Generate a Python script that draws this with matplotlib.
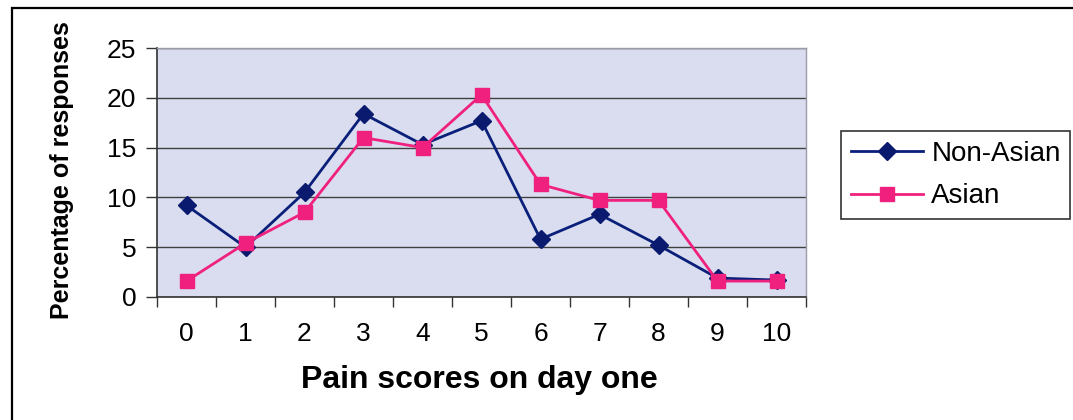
import matplotlib
matplotlib.use("Agg")
import matplotlib.pyplot as plt
from matplotlib.patches import Rectangle
from matplotlib.ticker import FixedLocator

plt.rcParams['font.family'] = ['Liberation Sans', 'DejaVu Sans']

scores = [0, 1, 2, 3, 4, 5, 6, 7, 8, 9, 10]
non_asian = [9.2, 5.0, 10.5, 18.4, 15.3, 17.7, 5.8, 8.3, 5.2, 1.9, 1.7]
asian = [1.6, 5.4, 8.5, 16.0, 15.0, 20.3, 11.3, 9.7, 9.7, 1.6, 1.6]
y_ticks = [0, 5, 10, 15, 20, 25]

W, H = 1073, 420
fig = plt.figure(figsize=(W / 100, H / 100), dpi=100)

# outer chart frame
fig.patches.append(Rectangle((12 / W, -0.05), 1.2, (H - 8) / H + 0.05,
                             transform=fig.transFigure, fill=False,
                             edgecolor='black', lw=1.6, zorder=0))

left, right, top, bottom = 157, 806, 48, 297
ax = fig.add_axes([left / W, (H - bottom) / H, (right - left) / W, (bottom - top) / H])
ax.set_facecolor('#d9ddef')

ax.plot(scores, non_asian, color='#0a1f7a', lw=2, marker='D', markersize=9,
        markerfacecolor='#0a1a6e', markeredgecolor='#0a1a6e', label='Non-Asian', zorder=3)
ax.plot(scores, asian, color='#f0207f', lw=2, marker='s', markersize=9.5,
        markerfacecolor='#f0207f', markeredgecolor='#f0207f', label='Asian', zorder=4)

ax.set_xlim(-0.5, 10.5)
ax.set_ylim(0, 25)
ax.set_yticks(y_ticks)
ax.set_xticks(scores)
ax.xaxis.set_minor_locator(FixedLocator([i + 0.5 for i in range(-1, 11)]))
ax.tick_params(axis='x', which='major', length=0, pad=18, labelsize=19)
ax.tick_params(axis='x', which='minor', length=7, width=1, color='#333333', direction='out')
ax.tick_params(axis='y', length=8, width=1, color='#333333', pad=7, labelsize=19)
ax.grid(axis='y', color='#404040', lw=1)
ax.set_axisbelow(True)

for side in ('top', 'right'):
    ax.spines[side].set_color('#9a9aa8')
    ax.spines[side].set_linewidth(1)
for side in ('left', 'bottom'):
    ax.spines[side].set_color('#333333')
    ax.spines[side].set_linewidth(1.2)

fig.text(62 / W, 1 - 170 / H, 'Percentage of responses', rotation=90,
         ha='center', va='center', fontsize=18, fontweight='bold')
fig.text(479 / W, 1 - 380 / H, 'Pain scores on day one',
         ha='center', va='center', fontsize=23, fontweight='bold')

leg = fig.legend(loc='upper left', bbox_to_anchor=(841 / W, 1 - 131 / H),
                 bbox_transform=fig.transFigure, fontsize=20, frameon=True,
                 fancybox=False, edgecolor='black', handlelength=2.6,
                 borderpad=0.35, labelspacing=0.6, handletextpad=0.3,
                 borderaxespad=0)
leg.get_frame().set_linewidth(1.2)

fig.savefig('out.png', dpi=100)
